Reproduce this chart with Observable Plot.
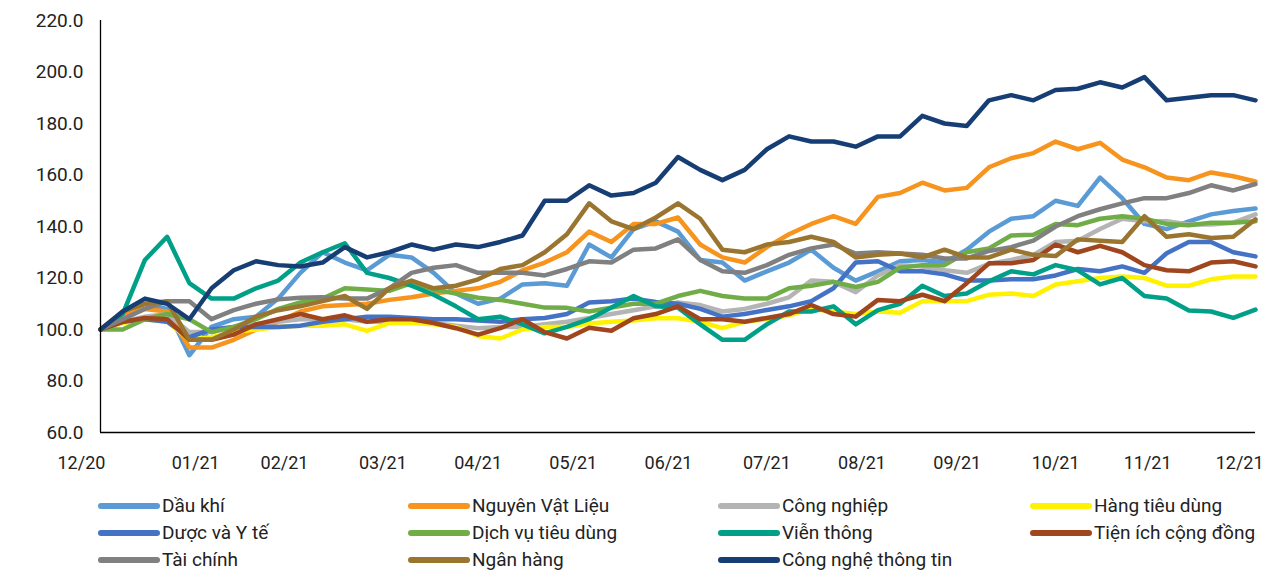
<!DOCTYPE html>
<html>
<head>
<meta charset="utf-8">
<script src="https://cdn.jsdelivr.net/npm/d3@7"></script>
<script src="https://cdn.jsdelivr.net/npm/@observablehq/plot@0.6"></script>
<style>
  html, body { margin: 0; padding: 0; background: #fff; }
  body { width: 1265px; height: 572px; position: relative; overflow: hidden; font-family: Roboto, "Noto Sans", sans-serif; }
  #chart svg { display: block; }
  #legend { position: absolute; left: 0; top: 492px; width: 1265px; height: 81px; }
  .item { position: absolute; height: 27px; display: flex; align-items: center; font-size: 19px; color: #222; white-space: nowrap; }
  .sw { width: 62px; height: 6px; border-radius: 3px; margin-right: 2px; }
</style>
</head>
<body>
<div id="chart"></div>
<div id="legend"></div>
<script>
// Series names (legend order) and colours
const names = ["Dầu khí", "Nguyên Vật Liệu", "Công nghiệp", "Hàng tiêu dùng", "Dược và Y tế", "Dịch vụ tiêu dùng", "Viễn thông", "Tiện ích cộng đồng", "Tài chính", "Ngân hàng", "Công nghệ thông tin"];
const colors = ["#5B9BD5", "#F7941D", "#B4B4B4", "#FFF200", "#4472C4", "#70AD47", "#00A088", "#A0461E", "#808080", "#9A7530", "#163E74"];

// Weekly sample dates starting 31/12/2020
const startDate = new Date(Date.UTC(2020, 11, 31));
const weeks = d3.range(53).map(i => d3.utcDay.offset(startDate, 7 * i));

// Tick labels and the dates they sit at
const tickDates = [[2020,11,25],[2021,0,30],[2021,1,27],[2021,2,30],[2021,3,29],[2021,4,29],[2021,5,28],[2021,6,29],[2021,7,28],[2021,8,27],[2021,9,28],[2021,10,26],[2021,11,25]].map(([y,m,d]) => new Date(Date.UTC(y,m,d)));
const tickLabels = ["12/20","01/21","02/21","03/21","04/21","05/21","06/21","07/21","08/21","09/21","10/21","11/21","12/21"];
const yTicks = [60, 80, 100, 120, 140, 160, 180, 200, 220];

const dauKhi = [100,106,110,108,90,101,104,105,112,122,130,126,123,129,128,122,114,110,112,117.5,118,117,133,128,139,142,138,127,126,119,122.6,126,131,124,119,122.6,126.5,127,126,131,138,143,144,150,148,159,151,141,139,142,144.7,146,147];
const nguyenVatLieu = [100,106,108,107,93,93,96,100,103,107,109,109.5,110,111.5,112.5,114,115,116,118.5,123,126,130,138,134,141,141,143.5,133,128,126,132,137,141,144,141,151.5,153,157,154,155,163,166.5,168.5,173,170,172.5,166,163,159,158,161,159.5,157.5];
const congNghiep = [100,103,105,106,99,99,101,102,103,104,104,104,103,103,103,102.5,101.5,100.5,101,101,102,103,104.5,106,107.5,109,110.5,109.5,107,108,110,112.5,119,118.5,114.5,121,125,124.5,123,122,125.5,127,129,134,134.5,139,143,142,142,140.8,140.8,141.5,144.7];
const hangTieuDung = [100,102.5,104,103,96,97,99,100,101,101.5,101.5,102,99.5,102.5,102.5,102,101,97.5,96.5,100,101,101,102.3,103,103.5,104.4,104.4,103,100.5,103,104,105.5,108,107,106,107,106.5,111,111,111,113.5,114,113,117.5,118.7,120,120.6,120,117,117,119.5,120.6,120.6];
const duocYTe = [100,103,104,103,97,100,101,101,101,101.5,103,104,105,105,104.5,104,104,103.5,103,104,104.5,106,110.5,111,112,110.7,110,108,105,106,107.6,109,111,116,126,126.5,122.6,122.6,121.4,119,119,119.5,119.5,121,123.5,122.6,124.5,122,129.6,134,134,130,128.4];
const dichVuTieuDung = [100,100,104,106,104,99,101,104,108,110.5,112,116,115.5,115,118,115.5,114,112.3,111.5,110,108.5,108.4,107,108.5,110,110,113,115,113,112,112,116,117,118.5,116.5,118.5,124,125,125,130,131.5,136.5,136.8,141,140.5,143,144,143,141,140.5,141.5,141.5,142];
const vienThong = [100,106,127,136,118,112,112,116,119,126,130,133.5,122,120,117,113.5,109,104,105,102,98.5,101,104,108.5,113,109,108.5,102,96,96,102,107,107,109,102,107.5,110,117,113,114,118.7,122.6,121.4,125,123,117.5,120,113,112,107.4,107,104.5,107.7];
const tienIch = [100,103,104.5,104,96,96,98,102,104,106,104,105.5,103,104,104,102.5,100.5,98,100.5,104,99,96.5,100.7,99.5,104.4,106,109,104,104,103,104.5,106,109.5,106,105,111.5,111,113.5,111,118,125.7,125.7,127,133,130,132.5,130,125,123,122.6,126,126.5,124.5];
const taiChinh = [100,104,108,111,111,104,107.5,110,111.7,112.3,112.5,112,112,116,122,124,125,122,122,122,121,123.5,126.5,126,131,131.5,135,127,122.6,122,125,129,131.5,133,129.5,130,129.5,129,127.6,127.6,130.5,132,134.5,140,144,146.7,149,151,151,153,156,154,156.5];
const nganHang = [100,107,110,111,96,96,100,105,107.5,109,111,113,108,116,119,116,117,119.5,123.5,125,130,137,149,142,139,143.5,149,143,131,130,133,134,136,134,128,129,129.5,128,131,128,128,131,129,128.5,135,134.5,134,144,136,137,135.5,136,142.8];
const congNgheTT = [100,107,112,110,104,116,123,126.5,125,124.5,126,132,128,130,133,131,133,132,134,136.5,150,150,156,152,153,157,167,162,158,162,170,175,173,173,171,175,175,183,180,179,189,191,189,193,193.5,196,194,198,189,190,191,191,189];

const seriesValues = [dauKhi, nguyenVatLieu, congNghiep, hangTieuDung, duocYTe, dichVuTieuDung, vienThong, tienIch, taiChinh, nganHang, congNgheTT];

const rows = [];
seriesValues.forEach((vals, s) => vals.forEach((v, i) => rows.push({date: weeks[i], value: v, series: names[s]})));

const chart = Plot.plot({
  width: 1265,
  height: 475,
  marginLeft: 100,
  marginRight: 10,
  marginTop: 20,
  marginBottom: 43,
  style: {fontFamily: "Roboto, 'Noto Sans', sans-serif", fontSize: "17px", color: "#222", background: "#fff", overflow: "visible"},
  x: {type: "utc", domain: [weeks[0], weeks[weeks.length - 1]]},
  y: {domain: [60, 220]},
  color: {domain: names, range: colors},
  marks: [
    Plot.line(rows, {x: "date", y: "value", z: "series", stroke: "series", strokeWidth: 4.5, strokeLinejoin: "round", strokeLinecap: "round"}),
    Plot.ruleX([weeks[0]], {stroke: "#000", strokeWidth: 1.3}),
    Plot.ruleY([60], {stroke: "#000", strokeWidth: 1.3}),
    Plot.axisY({ticks: yTicks, tickFormat: d => d.toFixed(1), tickSize: 0, tickPadding: 17, fontSize: 19, label: null}),
    Plot.axisX({ticks: tickDates, tickFormat: (d, i) => tickLabels[i], tickSize: 0, tickPadding: 24, fontSize: 18, label: null})
  ]
});
document.getElementById("chart").appendChild(chart);

const colLeft = [98, 408, 718, 1030];
const legend = document.getElementById("legend");
names.forEach((n, i) => {
  const it = document.createElement("div");
  it.className = "item";
  it.style.left = colLeft[i % 4] + "px";
  it.style.top = (Math.floor(i / 4) * 27) + "px";
  const sw = document.createElement("div");
  sw.className = "sw";
  sw.style.background = colors[i];
  const tx = document.createElement("span");
  tx.textContent = n;
  it.appendChild(sw);
  it.appendChild(tx);
  legend.appendChild(it);
});
</script>
</body>
</html>
